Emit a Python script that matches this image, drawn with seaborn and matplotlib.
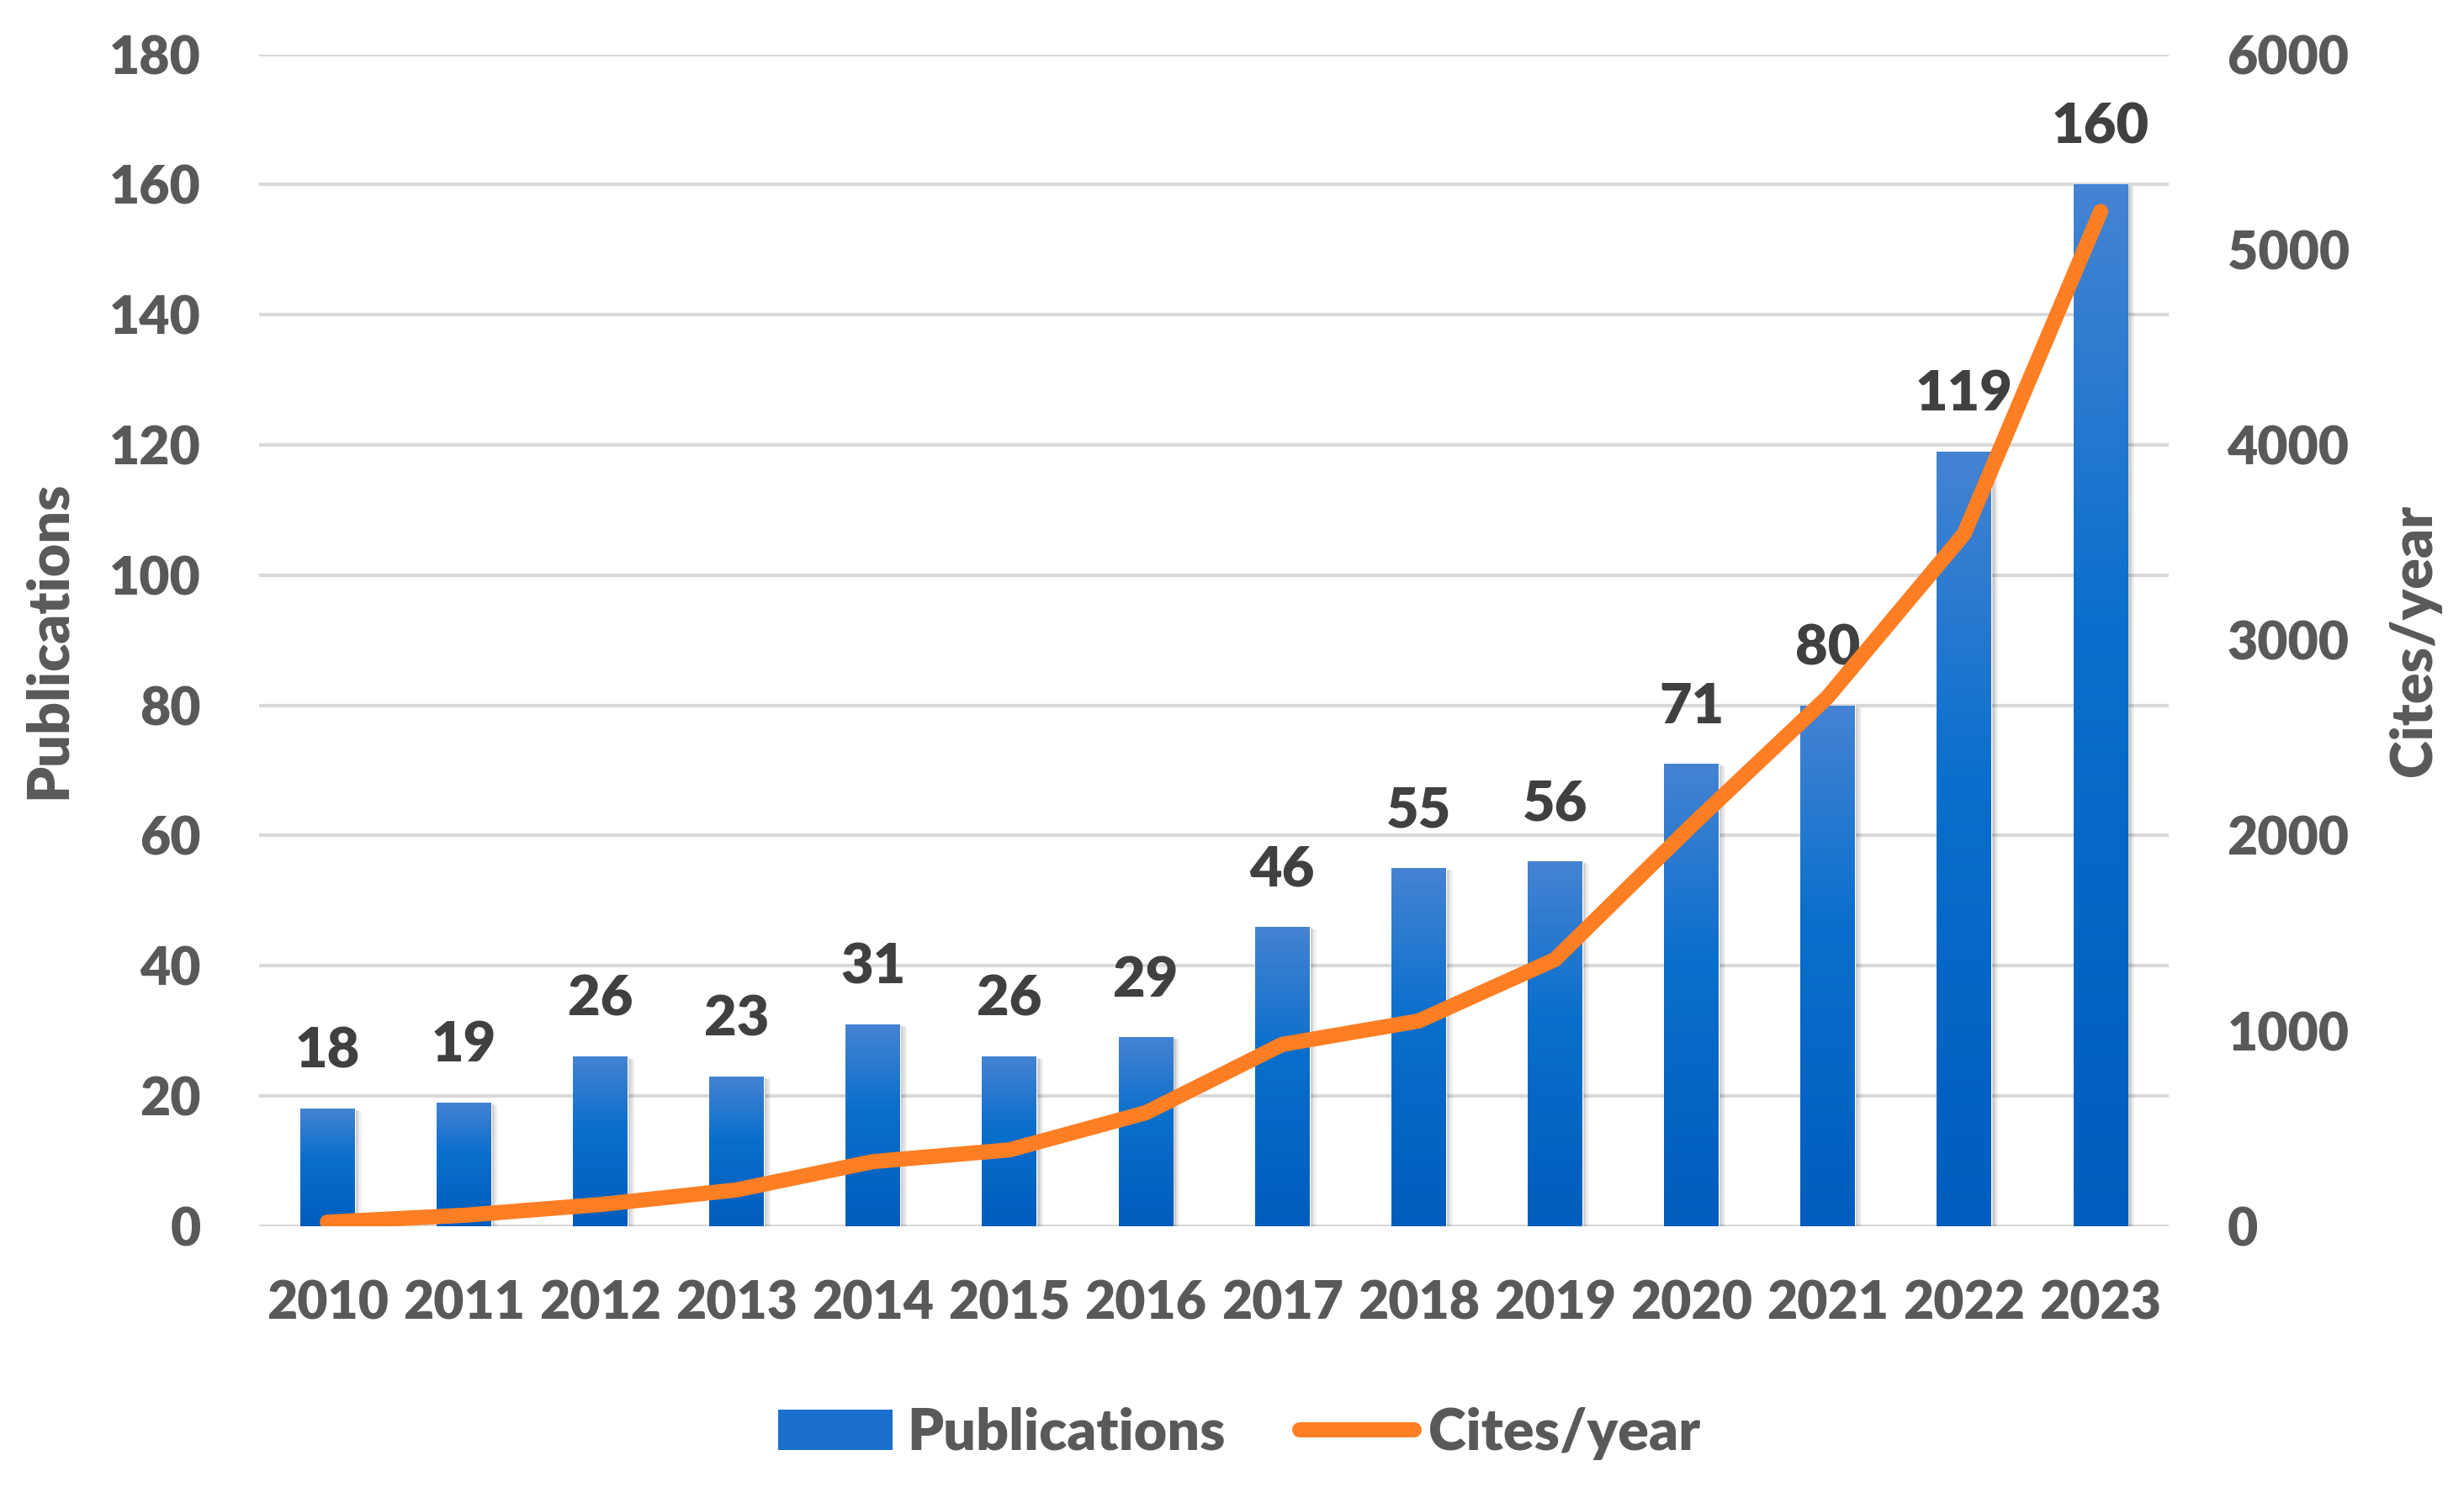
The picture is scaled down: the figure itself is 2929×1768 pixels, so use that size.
import numpy as np
import pandas as pd
import matplotlib.pyplot as plt
import matplotlib.transforms as mtransforms
from matplotlib.colors import LinearSegmentedColormap
from matplotlib.patches import Patch, Rectangle
from matplotlib.lines import Line2D
import seaborn as sns

# data
years = ["2010", "2011", "2012", "2013", "2014", "2015", "2016",
         "2017", "2018", "2019", "2020", "2021", "2022", "2023"]
publications = [18, 19, 26, 23, 31, 26, 29, 46, 55, 56, 71, 80, 119, 160]
cites_per_year = [20, 55, 110, 185, 330, 390, 580, 930, 1050, 1365, 2050, 2710, 3545, 5195]

pub_ticks = [0, 20, 40, 60, 80, 100, 120, 140, 160, 180]
cite_ticks = [0, 1000, 2000, 3000, 4000, 5000, 6000]

df = pd.DataFrame({"year": years, "publications": publications, "cites": cites_per_year})
df["pos"] = np.arange(len(df))

sns.set_theme(style="white")
plt.rcParams["font.family"] = ["Lato", "DejaVu Sans"]
plt.rcParams["font.weight"] = "heavy"

TICK_COLOR = "#595959"
LABEL_COLOR = "#404040"
ORANGE = "#fd7e23"
GRID = "#d9d9d9"
WEIGHT = "heavy"

fig = plt.figure(figsize=(29.29, 17.68), dpi=100)
ax = fig.add_axes([0.1052, 0.1755, 0.775, 0.788])

sns.barplot(data=df, x="year", y="publications", ax=ax, width=0.4,
            color="#1a6fcc", saturation=1, zorder=3)

# gradient fill + soft shadow for each bar
grad = LinearSegmentedColormap.from_list(
    "bar", [(0.0, "#4583d3"), (0.42, "#0a6fcc"), (1.0, "#005dbd")])
gradient = np.linspace(0, 1, 256).reshape(-1, 1)
for p in list(ax.patches):
    x0, w, h = p.get_x(), p.get_width(), p.get_height()
    for k, a in [(10, 0.05), (7, 0.07), (4, 0.09)]:
        off = mtransforms.offset_copy(ax.transData, fig=fig, x=k * 0.8, y=-k * 0.3, units="dots")
        sh = Rectangle((x0, 0), w, h, transform=off, facecolor="#000000",
                       alpha=a, edgecolor="none", zorder=2)
        ax.add_patch(sh)
    im = ax.imshow(gradient, cmap=grad, extent=[x0, x0 + w, 0, h], origin="upper",
                   aspect="auto", zorder=3.5, interpolation="bicubic")
    im.set_clip_path(p)

ax.bar_label(ax.containers[0], labels=[str(v) for v in publications], padding=27,
             fontsize=48, fontweight=WEIGHT, color=LABEL_COLOR, zorder=6)

ax.set_xlim(-0.5, len(years) - 0.5)
ax.set_ylim(0, 180)
ax.set_yticks(pub_ticks)
ax.grid(axis="y", color=GRID, linewidth=3, zorder=0)
ax.set_axisbelow(True)
for s in ax.spines.values():
    s.set_visible(False)
ax.tick_params(axis="both", length=0, labelsize=45, labelcolor=TICK_COLOR)
ax.tick_params(axis="y", pad=50)
ax.tick_params(axis="x", pad=46)
for t in ax.get_xticklabels() + ax.get_yticklabels():
    t.set_fontweight(WEIGHT)
ax.set_xlabel("")
ax.set_ylabel("Publications", fontsize=49, fontweight=WEIGHT, color=TICK_COLOR)
ax.yaxis.set_label_coords(-0.096, 0.5)

ax2 = ax.twinx()
sns.lineplot(data=df, x="pos", y="cites", ax=ax2, color=ORANGE, linewidth=13,
             solid_capstyle="round", solid_joinstyle="round", zorder=5)
ax2.set_ylim(0, 6000)
ax2.set_yticks(cite_ticks)
ax2.set_xlim(-0.5, len(years) - 0.5)
for s in ax2.spines.values():
    s.set_visible(False)
ax2.tick_params(axis="y", length=0, labelsize=45, labelcolor=TICK_COLOR, pad=50)
for t in ax2.get_yticklabels():
    t.set_fontweight(WEIGHT)
ax2.set_ylabel("Cites/year", fontsize=49, fontweight=WEIGHT, color=TICK_COLOR, rotation=90)
ax2.yaxis.set_label_coords(1.115, 0.5)
ax2.grid(False)

handles = [Patch(facecolor="#1a6fcc", edgecolor="none"),
           Line2D([0], [0], color=ORANGE, linewidth=13, solid_capstyle="round")]
leg = fig.legend(handles, ["Publications", "Cites/year"], loc="center",
                 bbox_to_anchor=(0.503, 0.036), ncol=2, frameon=False,
                 fontsize=49, handlelength=2.0, handleheight=0.7,
                 handletextpad=0.25, columnspacing=1.3)
for t in leg.get_texts():
    t.set_color(TICK_COLOR)
    t.set_fontweight(WEIGHT)

fig.savefig("out.png", dpi=100, facecolor="white")
